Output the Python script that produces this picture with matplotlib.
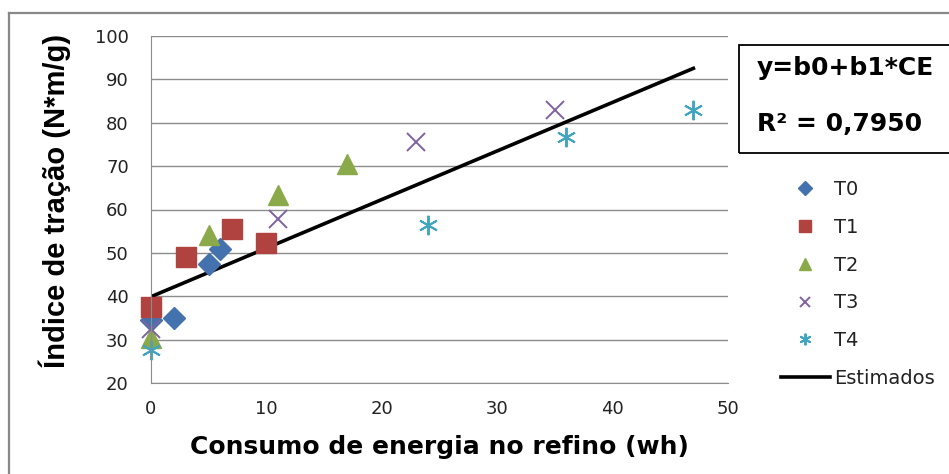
import matplotlib
matplotlib.use('Agg')
import matplotlib.pyplot as plt
from matplotlib.lines import Line2D
from matplotlib.patches import Rectangle
from matplotlib import font_manager

# Data
t0_x = [0, 2, 5, 6]
t0_y = [34.5, 35.0, 47.5, 50.8]
t1_x = [0, 3, 7, 10]
t1_y = [37.6, 49.0, 55.5, 52.2]
t2_x = [0, 5, 11, 17]
t2_y = [30.3, 54.1, 63.4, 70.6]
t3_x = [0, 11, 23, 35]
t3_y = [32.5, 57.8, 75.5, 82.9]
t4_x = [0, 24, 36, 47]
t4_y = [27.6, 56.4, 76.8, 82.9]

# Estimated line y = b0 + b1*CE
b0 = 39.9
b1 = 1.12
est_x = [0, 47]
est_y = [b0 + b1 * x for x in est_x]

xticks = [0, 10, 20, 30, 40, 50]
yticks = [20, 30, 40, 50, 60, 70, 80, 90, 100]

names = {f.name for f in font_manager.fontManager.ttflist}
narrow = 'Liberation Sans Narrow' if 'Liberation Sans Narrow' in names else 'Liberation Sans'

fig = plt.figure(figsize=(9.49, 4.74), dpi=100)
ax = fig.add_axes([151/949, 1-383/474, (728-151)/949, (383-36)/474])

ax.plot(t0_x, t0_y, 'D', color='#4472AE', ms=11.5, ls='none', label='T0', clip_on=False)
ax.plot(t1_x, t1_y, 's', color='#B0423F', ms=14, ls='none', label='T1', clip_on=False)
ax.plot(t2_x, t2_y, '^', color='#8AAA4A', ms=15, ls='none', label='T2', clip_on=False)
ax.plot(t3_x, t3_y, 'x', color='#7E62A0', ms=13, mew=1.4, ls='none', label='T3', clip_on=False)
# asterisk marker (6-armed) for T4
ax.plot(t4_x, t4_y, marker=(6, 2, 0), color='#3FA5C0', ms=14, mew=1.4, ls='none', label='T4',
        clip_on=False)
ax.plot(est_x, est_y, color='black', lw=2.6, label='Estimados', zorder=1)

ax.set_xlim(0, 50)
ax.set_ylim(20, 100)
ax.set_xticks(xticks)
ax.set_yticks(yticks)
ax.yaxis.grid(True, color='#8C8C8C', lw=1)
ax.set_axisbelow(True)
for s in ['top', 'right']:
    ax.spines[s].set_visible(False)
ax.spines['left'].set_color('#8C8C8C')
ax.spines['bottom'].set_color('#8C8C8C')
ax.tick_params(length=0, labelsize=13, colors='#222222')
ax.tick_params(axis='y', pad=16)
ax.tick_params(axis='x', pad=12)

ax.set_xlabel('Consumo de energia no refino (wh)', fontsize=18, fontweight='bold',
              family='DejaVu Sans')
ax.xaxis.set_label_coords(0.5, -0.15)
ax.set_ylabel('Índice de tração (N*m/g)', fontsize=21, fontweight='bold',
              family=narrow)
ax.yaxis.set_label_coords(-0.139, 0.525)

# outer chart border (left and top visible)
fig.add_artist(Line2D([9/949, 9/949], [0, 1-13/474], color='#888888', lw=1.6))
fig.add_artist(Line2D([9/949, 1], [1-13/474, 1-13/474], color='#888888', lw=1.6))

# equation box
fig.add_artist(Rectangle((739/949, 1-153/474), 0.5, 108/474, fill=False,
                         edgecolor='black', lw=1.3, transform=fig.transFigure))
fig.text(757/949, 1-68/474, 'y=b0+b1*CE', fontsize=18, fontweight='bold',
         family='DejaVu Sans', va='center')
fig.text(757/949, 1-124/474, 'R² = 0,7950', fontsize=18, fontweight='bold',
         family='DejaVu Sans', va='center')

handles, labels = ax.get_legend_handles_labels()
leg = fig.legend(handles, labels, loc='center left', bbox_to_anchor=(781/949, 1-284/474),
                 frameon=False, fontsize=14, markerscale=0.6, handlelength=2.5,
                 handletextpad=0.25, labelspacing=0.97, borderpad=0, borderaxespad=0)
for t in leg.get_texts():
    t.set_color('#222222')

fig.savefig('out.png', dpi=100)
